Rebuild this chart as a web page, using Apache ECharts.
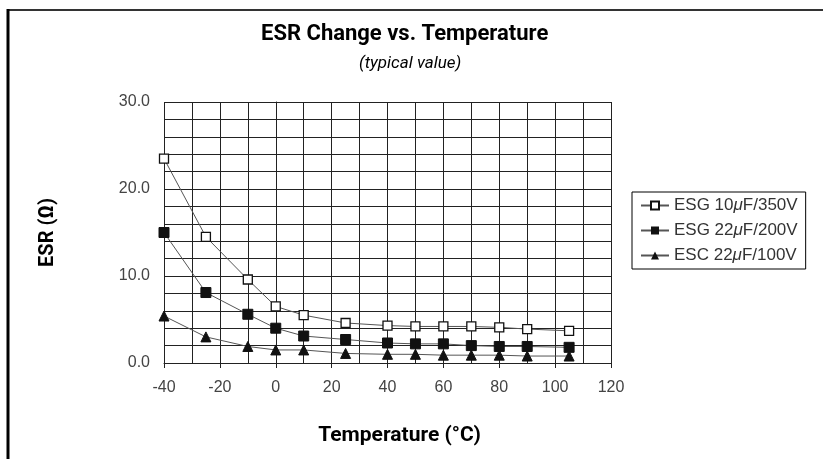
<!DOCTYPE html>
<html><head><meta charset="utf-8">
<script src="https://cdn.jsdelivr.net/npm/echarts@6/dist/echarts.min.js"></script>
<style>html,body{margin:0;padding:0;background:#fff}#c{width:823px;height:459px}</style>
</head><body><div id="c"></div>
<script>
const temps = [-40, -25, -10, 0, 10, 25, 40, 50, 60, 70, 80, 90, 105];
const esg10_350 = [23.5, 14.5, 9.6, 6.5, 5.5, 4.6, 4.3, 4.2, 4.2, 4.2, 4.1, 3.9, 3.7];
const esg22_200 = [15.0, 8.1, 5.6, 4.0, 3.1, 2.7, 2.3, 2.2, 2.2, 2.0, 1.9, 1.9, 1.8];
const esc22_100 = [5.4, 3.0, 1.9, 1.5, 1.5, 1.1, 1.0, 1.0, 0.9, 0.9, 0.9, 0.8, 0.8];
const seriesNames = ['ESG 10μF/350V', 'ESG 22μF/200V', 'ESC 22μF/100V'];

const pairs = arr => temps.map((t, i) => [t, arr[i]]);
const chart = echarts.init(document.getElementById('c'));
const lineCol = '#555';
chart.setOption({
  animation: false,
  backgroundColor: '#fff',
  title: [
    {text: 'ESR Change vs. Temperature', left: 256, top: 18,
     textStyle: {fontFamily: 'Roboto', fontWeight: 'bold', fontSize: 22, color: '#000'}},
    {text: '(typical value)', left: 354, top: 50,
     textStyle: {fontFamily: 'Roboto', fontStyle: 'italic', fontWeight: 'normal', fontSize: 17, color: '#000'}}
  ],
  grid: {left: 164, right: 212, top: 102, bottom: 96},
  legend: {
    orient: 'vertical', left: 632, top: 192,
    padding: [5, 8, 5, 8], itemGap: 8,
    itemWidth: 28, itemHeight: 10,
    borderColor: '#000', borderWidth: 1,
    textStyle: {fontFamily: 'Liberation Sans', fontSize: 17, color: '#333',
      rich: {i: {fontStyle: 'italic', fontFamily: 'Liberation Sans', fontSize: 17, color: '#333'}}},
    formatter: n => n.replace('μ', '{i|μ}'),
    data: seriesNames
  },
  xAxis: {
    type: 'value', min: -40, max: 120, interval: 20,
    name: 'Temperature (°C)', nameLocation: 'middle', nameGap: 62,
    nameTextStyle: {fontFamily: 'Roboto', fontWeight: 'bold', fontSize: 21, color: '#000',
      padding: [0, 0, 0, 24]},
    axisLine: {show: true, onZero: false, lineStyle: {color: '#222', width: 1}},
    axisTick: {show: true, length: 5, lineStyle: {color: '#222'}},
    axisLabel: {fontFamily: 'Liberation Sans', fontSize: 16, color: '#444', margin: 17},
    splitLine: {show: true, lineStyle: {color: '#222', width: 1}},
    minorTick: {show: false, splitNumber: 2},
    minorSplitLine: {show: true, lineStyle: {color: '#222', width: 1}}
  },
  yAxis: {
    type: 'value', min: 0, max: 30, interval: 10,
    name: 'ESR (Ω)', nameLocation: 'middle', nameGap: 106,
    nameTextStyle: {fontFamily: 'Roboto', fontWeight: 'bold', fontSize: 20, color: '#000'},
    axisLine: {show: true, lineStyle: {color: '#222', width: 1}},
    axisTick: {show: true, length: 6, lineStyle: {color: '#222'}},
    axisLabel: {fontFamily: 'Liberation Sans', fontSize: 16, color: '#444', margin: 14,
      formatter: v => v.toFixed(1)},
    splitLine: {show: true, lineStyle: {color: '#222', width: 1}},
    minorTick: {show: true, splitNumber: 5, length: 3, lineStyle: {color: '#222'}},
    minorSplitLine: {show: true, lineStyle: {color: '#222', width: 1}}
  },
  series: [
    {name: seriesNames[0], type: 'line', data: pairs(esg10_350),
     symbol: 'rect', symbolSize: 9,
     lineStyle: {color: lineCol, width: 1},
     itemStyle: {color: '#fff', borderColor: '#111', borderWidth: 1.3}},
    {name: seriesNames[1], type: 'line', data: pairs(esg22_200),
     symbol: 'rect', symbolSize: 10,
     lineStyle: {color: lineCol, width: 1},
     itemStyle: {color: '#111', borderColor: '#111'}},
    {name: seriesNames[2], type: 'line', data: pairs(esc22_100),
     symbol: 'triangle', symbolSize: 10,
     lineStyle: {color: lineCol, width: 1},
     itemStyle: {color: '#111', borderColor: '#111'}}
  ],
  graphic: [
    {type: 'line', shape: {x1: 7, y1: 10, x2: 823, y2: 10}, style: {stroke: '#333', lineWidth: 2}},
    {type: 'line', shape: {x1: 8, y1: 9, x2: 8, y2: 459}, style: {stroke: '#000', lineWidth: 3}}
  ]
});
</script></body></html>
